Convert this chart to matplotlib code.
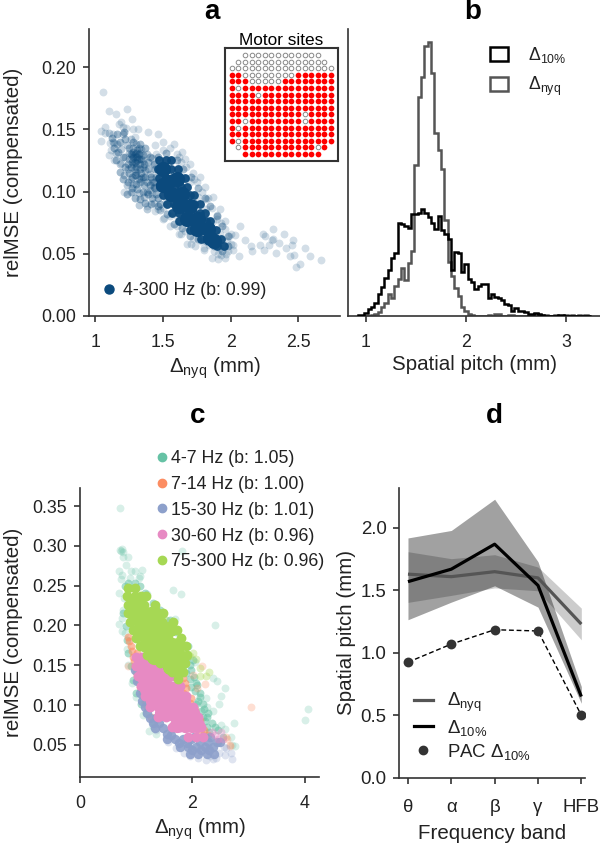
import matplotlib
matplotlib.use('Agg')
import matplotlib.pyplot as plt
from matplotlib.lines import Line2D
from matplotlib.patches import Patch
import numpy as np

plt.rcParams['font.family'] = ['Liberation Sans', 'DejaVu Sans']
plt.rcParams['mathtext.fontset'] = 'custom'
plt.rcParams['mathtext.rm'] = 'Liberation Sans'
plt.rcParams['mathtext.it'] = 'Liberation Sans'
plt.rcParams['mathtext.bf'] = 'Liberation Sans:bold'
plt.rcParams['axes.edgecolor'] = '#333333'
plt.rcParams['axes.linewidth'] = 1.2
plt.rcParams['xtick.color'] = '#333333'
plt.rcParams['ytick.color'] = '#333333'
plt.rcParams['xtick.labelcolor'] = '#222222'
plt.rcParams['ytick.labelcolor'] = '#222222'
plt.rcParams['text.color'] = '#222222'
plt.rcParams['axes.labelcolor'] = '#222222'

FS = 12.8
LABEL_FS = 14.8

# panel a, sparse points first
a_sparse_x = [1.058, 1.103, 1.149, 1.236, 1.274, 1.038, 1.067, 1.070, 1.043, 1.127, 1.171, 1.188, 1.200, 1.224, 1.276,
              1.315, 1.392, 1.464, 1.291, 1.108, 1.139, 1.115, 1.103, 1.139, 1.188, 1.212, 1.272, 1.380, 1.440, 1.507,
              1.632, 1.704, 1.800, 1.904, 1.969, 2.017, 2.063, 2.070, 2.036, 2.106, 2.149, 2.161, 2.221, 2.238, 2.257,
              2.250, 2.281, 2.315, 2.305, 2.317, 2.339, 2.358, 2.397, 2.413, 2.437, 2.454, 2.464, 2.469, 2.486, 2.517,
              2.551, 2.589, 2.666, 1.60, 1.63, 1.67, 1.72, 1.75, 1.79, 1.83, 1.86, 1.90, 1.93, 1.96, 1.99, 2.00, 1.98,
              1.93, 1.88, 1.84, 1.78, 1.72, 1.66, 1.60, 1.55, 1.50, 1.46, 1.43, 1.50, 1.55, 1.45, 1.62, 1.70, 1.76,
              1.82, 1.87, 1.92, 1.97, 1.92, 1.87, 1.74, 1.60, 1.52, 1.43, 1.42, 1.42, 1.46, 1.50, 1.55, 1.62, 1.68,
              1.74, 1.80, 1.86, 1.91, 1.96, 2.02, 2.00, 1.96, 1.92, 1.87, 1.81, 1.77, 1.70, 1.64, 1.58, 1.50, 1.44,
              1.66, 1.73, 1.82, 1.90]
a_sparse_y = [.180, .165, .162, .166, .158, .149, .152, .147, .141, .146, .154, .156, .152, .151, .150,
              .150, .148, .146, .144, .139, .139, .133, .129, .125, .123, .100, .100, .088, .084, .079,
              .066, .058, .055, .050, .050, .053, .048, .072, .065, .061, .056, .052, .057, .066, .064,
              .053, .057, .070, .061, .062, .051, .059, .066, .055, .048, .057, .061, .049, .039, .042,
              .055, .048, .045, .130, .124, .120, .115, .108, .100, .095, .087, .081, .075, .070, .064, .058, .052,
              .049, .052, .057, .060, .062, .068, .072, .080, .087, .095, .103, .133, .135, .130, .128, .108, .096,
              .086, .076, .066, .060, .055, .058, .068, .080, .092, .121, .110, .098, .086, .078, .072, .066, .058,
              .056, .053, .047, .046, .047, .057, .066, .076, .086, .096, .104, .112, .122, .132, .138, .140, .137,
              .126, .110, .094, .078]
a_mid_x = [1.25, 1.28, 1.30, 1.32, 1.34, 1.27, 1.30, 1.33, 1.36, 1.39, 1.29, 1.32, 1.35, 1.38, 1.41, 1.25, 1.22, 1.20,
           1.17, 1.14, 1.18, 1.22, 1.28, 1.33, 1.37, 1.12, 1.16, 1.21, 1.24, 1.27, 1.31, 1.35, 1.39, 1.42, 1.37, 1.33,
           1.29, 1.20, 1.18, 1.23, 1.40, 1.43, 1.45, 1.43, 1.31, 1.29, 1.33, 1.27, 1.31, 1.35, 1.15, 1.26, 1.30, 1.36,
           1.41, 1.46, 1.44, 1.43, 1.45, 1.48, 1.53, 1.58, 1.64, 1.70, 1.76, 1.82, 1.88, 1.94, 1.98, 1.98, 1.94, 1.90,
           1.85, 1.81, 1.76, 1.71, 1.65, 1.60, 1.52, 1.46, 1.28, 1.30, 1.32, 1.29, 1.34, 1.37, 1.40, 1.38, 1.30, 1.35,
           1.39, 1.26, 1.24, 1.33, 1.27]
a_mid_y = [.135, .132, .128, .130, .126, .124, .120, .118, .122, .118, .113, .110, .112, .108, .112, .115, .120, .128,
           .132, .135, .140, .142, .140, .138, .135, .143, .146, .148, .108, .103, .102, .100, .098, .095, .091, .094,
           .095, .110, .116, .098, .128, .122, .112, .104, .125, .124, .122, .129, .133, .129, .125, .120, .106, .105,
           .090, .088, .118, .108, .098, .090, .082, .074, .071, .064, .062, .060, .056, .052, .056, .064, .072, .080,
           .088, .095, .103, .112, .118, .125, .131, .128, .128, .131, .126, .118, .115, .112, .105, .100, .113, .120,
           .124, .130, .122, .108, .112]
a_lobe_x = [1.16, 1.19, 1.23, 1.26, 1.30, 1.34, 1.38, 1.42, 1.22, 1.25, 1.28, 1.24, 1.21, 1.23, 1.26, 1.30, 1.34, 1.37,
            1.40, 1.42, 1.40, 1.36, 1.32, 1.28, 1.44, 1.46, 1.43, 1.48, 1.28, 1.31, 1.33, 1.30, 1.27, 1.35, 1.29, 1.32,
            1.25, 1.13, 1.15, 1.10, 1.20, 1.18, 1.26, 1.32, 1.38]
a_lobe_y = [.138, .134, .137, .142, .138, .134, .130, .127, .128, .126, .122, .118, .113, .105, .110, .116, .111, .117,
            .114, .108, .101, .096, .099, .106, .103, .095, .091, .085, .135, .128, .131, .123, .126, .125, .130, .135,
            .131, .140, .131, .147, .146, .122, .100, .089, .086]
a_core_x = [1.47, 1.52, 1.56, 1.46, 1.51, 1.56, 1.61, 1.47, 1.52, 1.57, 1.62, 1.66, 1.48, 1.53, 1.58, 1.63, 1.68,
            1.50, 1.55, 1.60, 1.65, 1.70, 1.73, 1.53, 1.58, 1.63, 1.68, 1.73, 1.77, 1.57, 1.62, 1.67, 1.72, 1.77, 1.81,
            1.62, 1.67, 1.72, 1.77, 1.82, 1.85, 1.70, 1.75, 1.80, 1.85, 1.89, 1.78, 1.83, 1.88, 1.93, 1.90, 1.95]
a_core_y = [.125, .125, .125, .118, .118, .118, .118, .111, .111, .111, .111, .111, .104, .104, .104, .104, .104,
            .097, .097, .097, .097, .097, .097, .090, .090, .090, .090, .090, .090, .083, .083, .083, .083, .083, .083,
            .076, .076, .076, .076, .076, .076, .069, .069, .069, .069, .069, .062, .062, .062, .062, .056, .056]
a_fill_x = [1.50, 1.54, 1.60, 1.56, 1.64, 1.62, 1.70, 1.68, 1.76, 1.75, 1.83, 1.85, 1.50, 1.88]
a_fill_y = [.118, .108, .110, .098, .098, .088, .088, .078, .078, .070, .070, .063, .105, .060]

# motor sites grid, r = motor site, o = other
motor_rows = ['  oooooooooooo  ',
              ' oooooooooooooo ',
              'oooooooooooooooo',
              'rroooooooorrrrrr',
              'rrrooooorrrrrrrr',
              'rorrrrrrrrrrrrrr',
              'rrrrorrrrrrrrrrr',
              'rrrrrrrrrrrrrrrr',
              'rrrrrrrrrrrrrrrr',
              'rrrrrrrrrrrorrrr',
              'rrorrrrrrrrorrrr',
              'rorrrrrrrrrrrrrr',
              'rrrrrrrrrrrrrrrr',
              'rorrrrrrrrrrrrrr',
              ' orrrrrrrrrrror ',
              '  rrrrrrrrrrrr  ']

# panel b: histograms, heights on an arbitrary count scale
hist_start = 0.9167
hist_width = 1 / 30
b_10 = [1, 1, 3, 7, 9, 13, 22, 29, 38, 46, 58, 63, 93, 92, 90, 88, 102, 102, 103, 107, 103, 99, 93, 87, 100, 86, 82, 77,
        46, 64, 63, 44, 52, 37, 34, 27, 30, 32, 32, 18, 22, 19, 18, 16, 12, 11, 5, 8, 5, 5, 4, 2, 2, 3, 2, 1, 0.5, 0.5,
        0.5, 0, 1, 1, 0, 0, 0, 0, 0, 0, 0, 0]
b_nyq = [0, 0, 0, 0, 1, 2, 4, 9, 13, 22, 18, 30, 37, 48, 36, 53, 65, 151, 219, 239, 270, 274, 243, 183, 166, 147, 96, 54,
         40, 28, 20, 9, 5, 2, 1, 0, 0, 0, 0, 1, 0, 2, 2, 0, 0, 1, 1, 0, 0, 0, 0, 0, 0, 1, 0, 0, 1, 0, 0, 1, 0, 0, 1, 0,
         1, 0, 1, 0, 1, 0]

# panel c
c_names = ['4-7 Hz (b: 1.05)', '7-14 Hz (b: 1.00)', '15-30 Hz (b: 1.01)', '30-60 Hz (b: 0.96)', '75-300 Hz (b: 0.96)']
c_colors = ['#66c2a5', '#fc8d62', '#8da0cb', '#e78ac3', '#a6d854']

teal_sparse_x = [.716, .728, .757, .769, .852, .811, .698, .905, 1.107, .740, .976, .888, .728, 1.065, 1.041, 1.805,
                 .698, 1.645, 1.799, 1.183, .769, .692, .746, 2.402, 1.698, 1.538, 2.041, 2.367, 2.438, 2.586, 2.509,
                 2.237, 2.473, 2.367, 2.260, 2.734, 2.503, 2.586, 2.692, 2.704, 2.757, 4.053, 4.0, 1.349, 1.29, .74,
                 .72, .78, .74, .80, .84, .86, .92, 1.00, 1.12, 1.22]
teal_sparse_y = [.348, .294, .292, .286, .286, .276, .268, .268, .270, .264, .269, .260, .258, .262, .260, .293,
                 .241, .245, .240, .240, .220, .202, .193, .201, .208, .207, .154, .134, .130, .122, .111,
                 .109, .102, .093, .098, .077, .075, .070, .060, .050, .049, .095, .081, .064, .074, .296, .295,
                 .235, .210, .190, .170, .150, .128, .110, .088, .068]
teal_dense_x = [.769, .811, .828, .858, .899, .935, .994, 1.077, 1.172, 1.29, .80, .858, .976, 1.065, 1.154, 1.30, 1.42,
                1.6, 1.716, 1.923, 2.01, 1.98, 2.07, 2.13, 2.19, 2.28, 2.34, 2.455, 2.544, 1.893, 1.98, 2.07, 2.19,
                2.25, 1.834, 2.04, 2.10, 2.16, 2.22, 1.95, 2.30, 1.89, 1.96, 2.03, 2.08, 2.14, 2.20, 2.26, 2.40]
teal_dense_y = [.2156, .199, .182, .165, .1485, .132, .115, .102, .09, .079, .249, .253, .253, .249, .241, .228, .22,
                .207, .192, .174, .157, .144, .128, .115, .102, .09, .077, .069, .0605, .14, .123, .102, .0856,
                .073, .1485, .118, .105, .092, .08, .133, .066, .158, .150, .135, .125, .110, .095, .085, .072]
orange_sparse_x = [3.047, 2.178, 2.231, .858, 2.012, 2.08, 2.60, 2.66, 2.62, 2.66]
orange_sparse_y = [.098, .149, .126, .149, .138, .122, .060, .049, .058, .050]
orange_dense_x = [.858, .90, .935, .976, 1.018, 1.065, 1.124, 1.195, 1.006, 1.834, 1.893, 1.982, 2.04, 2.13, 2.20, 2.278,
                  1.716, 1.834, 1.923, 2.012, 2.10, 1.27, .88, .92, .96, 1.00, 1.04, 1.10, 1.16, 1.78, 1.87, 1.95,
                  2.00, 2.07, 2.16]
orange_dense_y = [.186, .174, .161, .1485, .136, .123, .111, .098, .165, .134, .121, .109, .094, .081, .069, .0626,
                  .136, .115, .098, .0856, .073, .085, .180, .168, .155, .142, .130, .117, .104, .140, .128, .103,
                  .090, .078, .066]
peri_sparse_x = [2.698, 2.574, 2.426, 2.367, 2.10, 1.716, 1.568, 1.36, 2.69, 2.556, 1.85, 1.95, 2.24, 2.48, 2.60, 2.32]
peri_sparse_y = [.032, .037, .033, .032, .033, .046, .054, .069, .0395, .048, .040, .036, .031, .040, .046, .036]
peri_dense_x = [.976, 1.065, 1.154, 1.243, 1.36, 1.33, 1.48, 1.63, 1.54, 1.69, 1.83, 1.98, 1.775, 1.92, 2.07, 2.22, 2.37,
                1.95, 2.10, 2.25, 2.38, 2.13, 2.28, 2.43, 2.49, 1.02, 1.11, 1.20, 1.30, 1.41, 1.55, 1.62, 1.76, 1.90,
                2.00, 2.15, 2.30, 2.03, 2.18, 2.32]
peri_dense_y = [.144, .115, .098, .0835, .0835, .071, .071, .071, .058, .058, .058, .058, .048, .048, .048, .048, .048,
                .0387, .0387, .0387, .0387, .054, .054, .054, .054, .130, .105, .090, .078, .077, .064, .062, .052, .052,
                .043, .043, .043, .060, .060, .060]
pink_sparse_x = [2.40, 2.50, 2.45, 2.34, 2.55]
pink_sparse_y = [.063, .066, .058, .066, .058]
pink_dense_x = [.99, 1.10, 1.21, .99, 1.13, 1.27, 1.42, 1.04, 1.19, 1.34, 1.49, 1.63, 1.09, 1.23, 1.37, 1.51, 1.65, 1.78,
                1.15, 1.29, 1.43, 1.57, 1.71, 1.85, 1.89, 1.24, 1.38, 1.52, 1.66, 1.80, 1.94, 2.01, 1.39, 1.53, 1.67,
                1.81, 1.95, 2.10, 1.63, 1.77, 1.91, 2.05, 2.16, 1.92, 2.06, 2.19]
pink_dense_y = [.161, .161, .161, .1485, .1485, .1485, .1485, .136, .136, .136, .136, .136, .1234, .1234, .1234, .1234,
                .1234, .1234, .111, .111, .111, .111, .111, .111, .111, .098, .098, .098, .098, .098, .098, .098, .0856,
                .0856, .0856, .0856, .0856, .0856, .073, .073, .073, .073, .073, .0605, .0605, .0605]
pink_fill_x = [1.08, 1.20, 1.30, 1.14, 1.28, 1.42, 1.52, 1.20, 1.34, 1.48, 1.62, 1.70, 1.30, 1.44, 1.58, 1.72, 1.84,
               1.46, 1.60, 1.74, 1.88, 2.00, 1.72, 1.86, 2.00, 2.08]
pink_fill_y = [.150, .150, .150, .135, .135, .135, .135, .120, .120, .120, .120, .120, .105, .105, .105, .105, .105,
               .090, .090, .090, .090, .090, .075, .075, .075, .075]
lime_sparse_x = [1.953, 2.01, 2.13, 2.296, 2.237, 2.13, 1.538, 2.06]
lime_sparse_y = [.162, .165, .146, .142, .136, .137, .207, .158]
lime_dense_x = [.86, .98, .83, .97, 1.08, 1.18, .86, 1.00, 1.14, 1.33, .86, 1.00, 1.14, 1.28, 1.48, .89, 1.03, 1.17, 1.31,
                1.45, 1.66, .95, 1.09, 1.23, 1.37, 1.51, 1.72, 1.00, 1.14, 1.28, 1.42, 1.56, 1.79, 1.07, 1.21, 1.35, 1.49,
                1.63, 1.77, 1.88, 1.20, 1.34, 1.48, 1.62, 1.76, 1.90, 1.42, 1.56, 1.70, 1.86, 1.63, 1.73, 1.83, 1.74]
lime_dense_y = [.247, .247, .2366, .2366, .2366, .2366, .226, .226, .226, .226, .2156, .2156, .2156, .2156, .2156, .205,
                .205, .205, .205, .205, .205, .1947, .1947, .1947, .1947, .1947, .1947, .184, .184, .184, .184, .184,
                .184, .1737, .1737, .1737, .1737, .1737, .1737, .1737, .163, .163, .163, .163, .163, .163, .1527, .1527,
                .1527, .1527, .142, .142, .142, .133]
lime_fill_x = [.97, 1.03, .98, 1.12, 1.26, 1.34, 1.07, 1.22, 1.37, 1.52, 1.60, 1.18, 1.33, 1.48, 1.63, 1.75, 1.32, 1.47,
               1.62, 1.77, 1.60, 1.72]
lime_fill_y = [.232, .232, .215, .215, .215, .215, .195, .195, .195, .195, .195, .175, .175, .175, .175, .175, .160, .160,
               .160, .160, .148, .148]

# panel d
bands = ['θ', 'α', 'β', 'γ', 'HFB']
nyq_mean = [1.63, 1.61, 1.65, 1.60, 1.23]
nyq_low = [1.404, 1.46, 1.52, 1.497, 1.104]
nyq_high = [1.81, 1.754, 1.786, 1.687, 1.358]
d10_mean = [1.57, 1.67, 1.87, 1.54, 0.65]
d10_low = [1.265, 1.406, 1.537, 1.366, 0.596]
d10_high = [1.92, 1.98, 2.23, 1.73, 0.73]
pac_10 = [0.925, 1.07, 1.185, 1.175, 0.50]

NYQ = r'$\Delta_{\mathrm{nyq}}$'
D10 = r'$\Delta_{\mathrm{10\%}}$'
BLUE = '#0b4a7d'

fig = plt.figure(figsize=(6, 8.43), dpi=100)


def make_axes(left, top, right, bottom):
    ax = fig.add_axes([left / 600, 1 - bottom / 843, (right - left) / 600, (bottom - top) / 843])
    ax.spines['top'].set_visible(False)
    ax.spines['right'].set_visible(False)
    ax.tick_params(labelsize=FS, length=4.2, width=1.2, pad=5)
    ax.tick_params(axis='x', pad=9)
    return ax


def panel_title(x, y, letter):
    fig.text(x / 600, 1 - y / 843, letter, ha='center', va='center', fontsize=20, fontweight='bold', color='black')


# a
ax = make_axes(89, 29, 340, 316)
ax.scatter(a_sparse_x, a_sparse_y, s=32, color=BLUE, alpha=0.18, linewidths=0)
ax.scatter(a_lobe_x, a_lobe_y, s=32, color=BLUE, alpha=0.28, linewidths=0)
ax.scatter(a_mid_x, a_mid_y, s=32, color=BLUE, alpha=0.38, linewidths=0)
ax.scatter(a_core_x, a_core_y, s=40, color=BLUE, alpha=0.95, linewidths=0)
ax.scatter(a_fill_x, a_fill_y, s=120, color=BLUE, linewidths=0)
ax.set_xlim(0.952, 2.81)
ax.set_ylim(0, 0.2306)
ax.set_xticks([1, 1.5, 2, 2.5])
ax.set_xticklabels(['1', '1.5', '2', '2.5'])
ax.set_yticks([0, 0.05, 0.10, 0.15, 0.20])
ax.set_yticklabels(['0.00', '0.05', '0.10', '0.15', '0.20'])
ax.set_xlabel(NYQ + ' (mm)', fontsize=LABEL_FS, labelpad=3)
ax.set_ylabel('relMSE (compensated)', fontsize=LABEL_FS, labelpad=13)
ax.legend(handles=[Line2D([], [], ls='none', marker='o', ms=6.5, color=BLUE, label='4-300 Hz (b: 0.99)')],
          loc='lower left', bbox_to_anchor=(-0.055, 0.003), frameon=False, fontsize=FS, handletextpad=-0.2)
panel_title(212, 12, 'a')

inset = fig.add_axes([225 / 600, 1 - 160.7 / 843, 112.7 / 600, 112.4 / 843])
col_idx = np.arange(16)
for row, sites in enumerate(motor_rows):
    for col in col_idx:
        if sites[col] == 'r':
            inset.scatter(col, row, s=17, color='#ff0000', linewidths=0)
        elif sites[col] == 'o':
            inset.scatter(col, row, s=11, facecolor='white', edgecolor='#888888', linewidths=0.7)
inset.set_xlim(-1, 16)
inset.set_ylim(16, -1)
inset.set_xticks([])
inset.set_yticks([])
for sp in inset.spines.values():
    sp.set_linewidth(1.5)
inset.set_title('Motor sites', fontsize=12.4, color='black', pad=1.5)

# b
ax = make_axes(348.3, 29, 600, 316)
edges = hist_start + hist_width * np.arange(len(b_10) + 1)
ax.stairs(b_10, edges, color='black', linewidth=1.8, zorder=3)
ax.stairs(b_nyq, edges, color='#555555', linewidth=1.8, zorder=2)
ax.set_xlim(0.823, 3.34)
ax.set_ylim(0, 287)
ax.set_xticks([1, 2, 3])
ax.set_yticks([])
ax.set_xlabel('Spatial pitch (mm)', fontsize=LABEL_FS, labelpad=3)
ax.legend(handles=[Patch(facecolor='none', edgecolor='black', linewidth=1.8, label=D10),
                   Patch(facecolor='none', edgecolor='#555555', linewidth=1.8, label=NYQ)],
          loc='upper left', bbox_to_anchor=(0.50, 1.0), frameon=False, fontsize=FS, handlelength=1.0,
          handleheight=0.8, handletextpad=1.15, labelspacing=0.55)
panel_title(473, 12, 'b')

# c
ax = make_axes(80, 488, 319, 777)
ax.scatter(teal_sparse_x, teal_sparse_y, s=32, color=c_colors[0], alpha=0.25, linewidths=0)
ax.scatter(teal_dense_x, teal_dense_y, s=32, color=c_colors[0], alpha=0.55, linewidths=0)
ax.scatter(orange_sparse_x, orange_sparse_y, s=32, color=c_colors[1], alpha=0.28, linewidths=0)
ax.scatter(orange_dense_x, orange_dense_y, s=32, color=c_colors[1], alpha=0.6, linewidths=0)
ax.scatter(peri_sparse_x, peri_sparse_y, s=32, color=c_colors[2], alpha=0.28, linewidths=0)
ax.scatter(peri_dense_x, peri_dense_y, s=46, color=c_colors[2], alpha=0.9, linewidths=0)
ax.scatter(pink_sparse_x, pink_sparse_y, s=32, color=c_colors[3], alpha=0.4, linewidths=0)
ax.scatter(pink_dense_x, pink_dense_y, s=50, color=c_colors[3], linewidths=0)
ax.scatter(pink_fill_x, pink_fill_y, s=120, color=c_colors[3], linewidths=0)
ax.scatter(lime_sparse_x, lime_sparse_y, s=32, color=c_colors[4], alpha=0.35, linewidths=0)
ax.scatter(lime_dense_x, lime_dense_y, s=50, color=c_colors[4], linewidths=0)
ax.scatter(lime_fill_x, lime_fill_y, s=120, color=c_colors[4], linewidths=0)
ax.set_xlim(0, 4.25)
ax.set_ylim(0.0097, 0.3727)
ax.set_xticks([0, 2, 4])
ax.set_yticks([0.05, 0.10, 0.15, 0.20, 0.25, 0.30, 0.35])
ax.set_yticklabels(['0.05', '0.10', '0.15', '0.20', '0.25', '0.30', '0.35'])
ax.set_xlabel(NYQ + ' (mm)', fontsize=LABEL_FS, labelpad=3)
ax.set_ylabel('relMSE (compensated)', fontsize=LABEL_FS, labelpad=7)
ax.legend(handles=[Line2D([], [], ls='none', marker='o', ms=6, color=c, label=n) for c, n in zip(c_colors, c_names)],
          loc='lower left', bbox_to_anchor=(0.237, 0.69), frameon=False, fontsize=FS, handletextpad=-0.45,
          labelspacing=0.5, borderaxespad=0)
panel_title(198, 416, 'c')

# d
ax = make_axes(399.3, 488, 585, 777.7)
x = np.arange(len(bands))
ax.fill_between(x, nyq_low, nyq_high, color='black', alpha=0.2, linewidth=0)
ax.fill_between(x, d10_low, d10_high, color='black', alpha=0.37, linewidth=0)
ax.plot(x, pac_10, color='black', lw=1.0, ls='--', dashes=(3.5, 2))
ax.scatter(x, pac_10, s=50, color='#333333', zorder=4, linewidths=0)
ax.plot(x, nyq_mean, color='#555555', lw=2.3, solid_capstyle='butt')
ax.plot(x, d10_mean, color='black', lw=2.3, solid_capstyle='butt')
ax.set_xlim(-0.2, 4.085)
ax.set_ylim(0, 2.32)
ax.set_xticks(x)
ax.set_xticklabels(bands)
ax.tick_params(labelsize=13.4)
ax.tick_params(axis='x', pad=11)
ax.set_yticks([0, 0.5, 1.0, 1.5, 2.0])
ax.set_yticklabels(['0.0', '0.5', '1.0', '1.5', '2.0'])
ax.set_xlabel('Frequency band', fontsize=LABEL_FS, labelpad=6)
ax.set_ylabel('Spatial pitch (mm)', fontsize=LABEL_FS, labelpad=3)
ax.legend(handles=[Line2D([], [], color='#555555', lw=2.3, label=NYQ),
                   Line2D([], [], color='black', lw=2.3, label=D10),
                   Line2D([], [], ls='none', marker='o', ms=6, color='#333333', label='PAC ' + D10)],
          loc='lower left', bbox_to_anchor=(0.04, 0.03), frameon=False, fontsize=13.4, handlelength=1.0,
          handletextpad=0.75, labelspacing=0.2, borderaxespad=0)
panel_title(494, 416, 'd')

fig.savefig('out.png', dpi=100)
